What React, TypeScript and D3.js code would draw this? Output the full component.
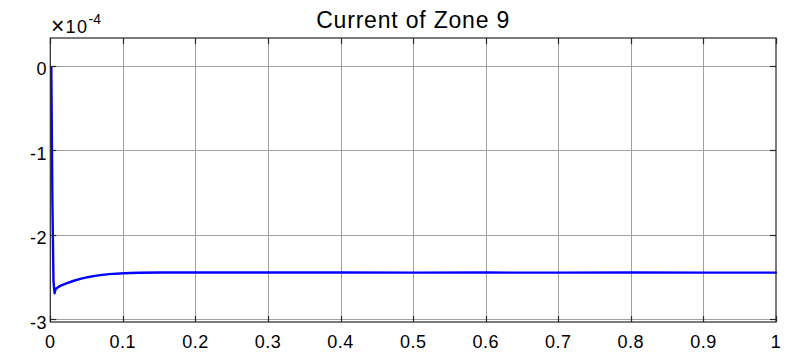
import React, { useEffect, useRef } from 'react'
import { select, scaleLinear, line } from 'd3'

// time (s) and current (x1e-4)
const times = [0, 0.0015, 0.003, 0.0045, 0.006, 0.009, 0.013, 0.02, 0.03, 0.04, 0.05, 0.06, 0.07, 0.08, 0.1, 0.12, 0.15, 0.2, 0.3, 0.4, 0.5, 0.6, 0.7, 0.8, 0.9, 1.0]
const current = [0, -1.6, -2.55, -2.69, -2.64, -2.62, -2.6, -2.575, -2.545, -2.52, -2.5, -2.485, -2.472, -2.463, -2.453, -2.448, -2.445, -2.444, -2.445, -2.445, -2.446, -2.445, -2.446, -2.445, -2.446, -2.446]

const xTicks = [0, 0.1, 0.2, 0.3, 0.4, 0.5, 0.6, 0.7, 0.8, 0.9, 1]
const xTickLabels = ['0', '0.1', '0.2', '0.3', '0.4', '0.5', '0.6', '0.7', '0.8', '0.9', '1']
const yTicks = [0, -1, -2, -3]
const yTickLabels = ['0', '-1', '-2', '-3']

const title = 'Current of Zone 9'

function App() {
    const svgRef = useRef<SVGSVGElement>(null)

    const width = 791
    const height = 358
    const left = 50.3
    const right = 776
    const top = 38
    const bottom = 322

    useEffect(() => {
        const svg = select(svgRef.current)
        svg.selectAll('*').remove()

        const x = scaleLinear().domain([0, 1]).range([left, right])
        const y = scaleLinear().domain([-3.03, 0.33]).range([bottom, top])

        const font = 'Liberation Sans, Arial, Helvetica, sans-serif'
        const tickLen = 6

        // grid
        const grid = svg.append('g').attr('stroke', '#a0a0a0').attr('stroke-width', 1)
        grid.selectAll('line.gx')
            .data(xTicks.slice(1, -1))
            .join('line')
            .attr('x1', d => Math.round(x(d)) + 0.5)
            .attr('x2', d => Math.round(x(d)) + 0.5)
            .attr('y1', top)
            .attr('y2', bottom)
        grid.selectAll('line.gy')
            .data(yTicks)
            .join('line')
            .attr('class', 'gy')
            .attr('x1', left)
            .attr('x2', right)
            .attr('y1', d => Math.round(y(d)) + 0.5)
            .attr('y2', d => Math.round(y(d)) + 0.5)

        // data line
        const pts = times.map((t, i) => [t, current[i]] as [number, number])
        svg.append('path')
            .datum(pts)
            .attr('fill', 'none')
            .attr('stroke', '#0000ff')
            .attr('stroke-width', 2.4)
            .attr('stroke-linejoin', 'round')
            .attr('d', line<[number, number]>()
                .x(d => x(d[0]) + 1)
                .y(d => y(d[1])))

        // box
        svg.append('rect')
            .attr('x', left)
            .attr('y', top)
            .attr('width', right - left)
            .attr('height', bottom - top)
            .attr('fill', 'none')
            .attr('stroke', '#262626')
            .attr('stroke-width', 1.2)

        // ticks (inward, both sides)
        const ticks = svg.append('g').attr('stroke', '#262626').attr('stroke-width', 1.2)
        xTicks.forEach(t => {
            const px = Math.round(x(t)) + 0.5
            ticks.append('line').attr('x1', px).attr('x2', px).attr('y1', bottom).attr('y2', bottom - tickLen)
            ticks.append('line').attr('x1', px).attr('x2', px).attr('y1', top).attr('y2', top + tickLen)
        })
        yTicks.forEach(t => {
            const py = Math.round(y(t)) + 0.5
            ticks.append('line').attr('x1', left).attr('x2', left + tickLen).attr('y1', py).attr('y2', py)
            ticks.append('line').attr('x1', right).attr('x2', right - tickLen).attr('y1', py).attr('y2', py)
        })

        // tick labels
        svg.append('g')
            .selectAll('text')
            .data(xTicks)
            .join('text')
            .attr('x', d => x(d))
            .attr('y', 348)
            .attr('text-anchor', 'middle')
            .attr('font-family', font)
            .attr('font-size', 18)
            .attr('letter-spacing', 0.5)
            .attr('fill', '#000')
            .text((d, i) => xTickLabels[i])

        svg.append('g')
            .selectAll('text')
            .data(yTicks)
            .join('text')
            .attr('x', 47)
            .attr('y', d => y(d) + 9.5)
            .attr('text-anchor', 'end')
            .attr('font-family', font)
            .attr('font-size', 18)
            .attr('letter-spacing', 0.5)
            .attr('fill', '#000')
            .text((d, i) => yTickLabels[i])

        // exponent
        const exp = svg.append('g').attr('font-family', font).attr('fill', '#000')
        exp.append('text').attr('x', 51).attr('y', 33.5).attr('font-size', 23).text('×')
        exp.append('text').attr('x', 65.5).attr('y', 33.3).attr('font-size', 18).attr('letter-spacing', 1.5).text('10')
        exp.append('text').attr('x', 88.5).attr('y', 24.3).attr('font-size', 14).text('-4')

        // title
        svg.append('text')
            .attr('x', (left + right) / 2)
            .attr('y', 27.7)
            .attr('text-anchor', 'middle')
            .attr('font-family', font)
            .attr('font-size', 23)
            .attr('letter-spacing', 0.8)
            .attr('fill', '#000')
            .text(title)
    }, [])

    return (
        <svg
            ref={svgRef}
            width={width}
            height={height}
            style={{ position: 'absolute', left: 0, top: 0, background: '#fff' }}
        ></svg>
    )
}

export default App
